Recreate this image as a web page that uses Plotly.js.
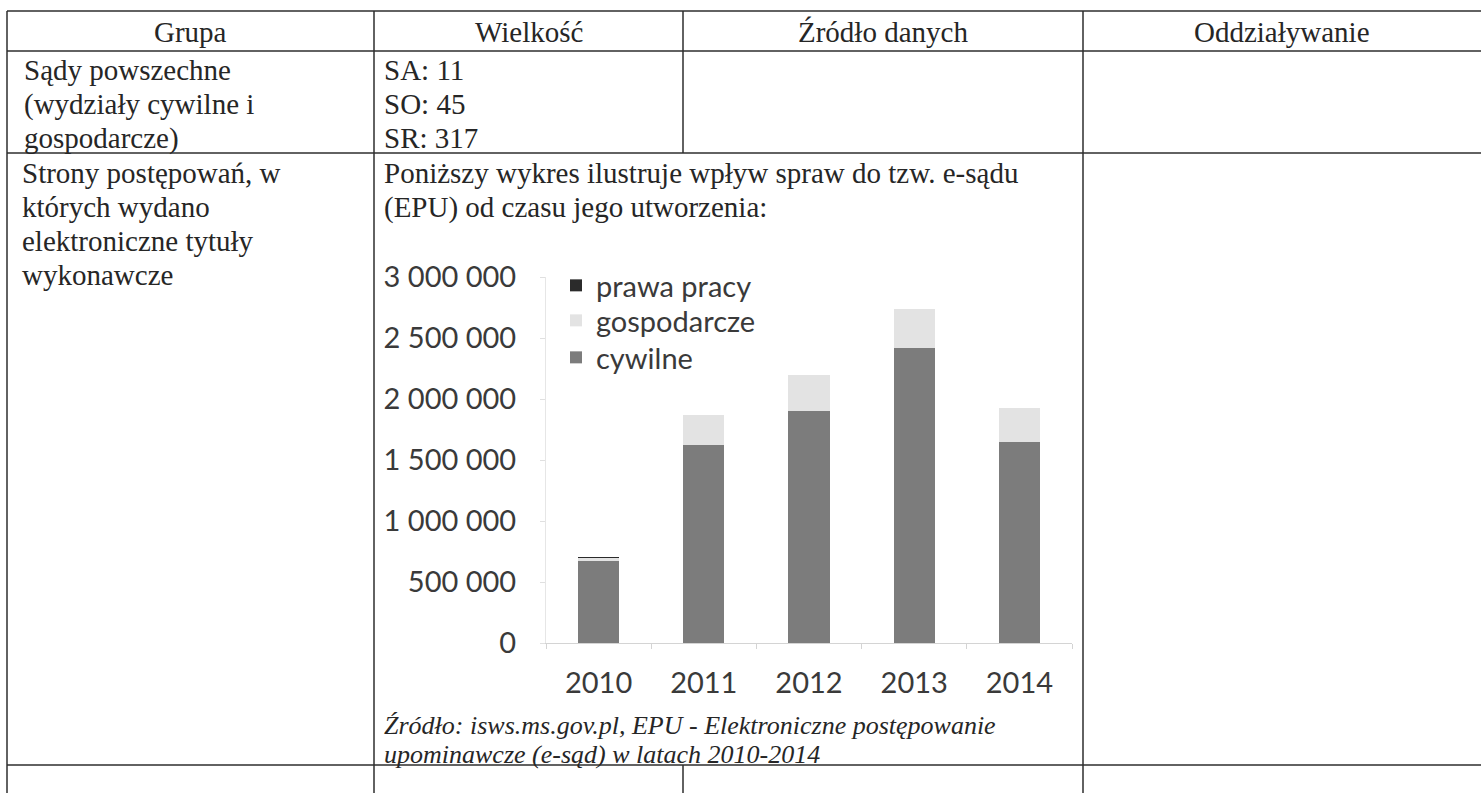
<!DOCTYPE html>
<html>
<head>
<meta charset="utf-8">
<script src="https://cdn.plot.ly/plotly-3.0.1.min.js"></script>
<style>
html,body{margin:0;padding:0;background:#fff;}
#chart{width:1481px;height:793px;}
</style>
</head>
<body>
<div id="chart"></div>
<script>
// ---- data ----
const years = ['2010', '2011', '2012', '2013', '2014'];
const cywilne = [672000, 1623000, 1900000, 2418000, 1648000];
const gospodarcze = [28000, 244000, 295000, 318000, 276000];
const prawaPracy = [1500, 2500, 3000, 3500, 2500];
const seriesNames = ['cywilne', 'gospodarcze', 'prawa pracy'];
const yTicks = [0, 500000, 1000000, 1500000, 2000000, 2500000, 3000000];

const headers = ['Grupa', 'Wielkość', 'Źródło danych', 'Oddziaływanie'];
const row1Col1 = ['Sądy powszechne', '(wydziały cywilne i', 'gospodarcze)'];
const row1Col2 = ['SA: 11', 'SO: 45', 'SR: 317'];
const row2Col1 = ['Strony postępowań, w', 'których wydano', 'elektroniczne tytuły', 'wykonawcze'];
const row2Intro = ['Poniższy wykres ilustruje wpływ spraw do tzw. e-sądu', '(EPU) od czasu jego utworzenia:'];
const sourceLines = ['Źródło: isws.ms.gov.pl, EPU - Elektroniczne postępowanie', 'upominawcze (e-sąd) w latach 2010-2014'];

// ---- layout helpers ----
const W = 1481, H = 793;
const px = x => x / W;
const py = y => 1 - y / H;

const colX = [7, 374, 683, 1083, 1481];
const rowY = [11, 51, 153, 765];
const lineH = 34;
const lineColor = '#2e2e2e';
const textColor = '#262626';
const serif = 'Liberation Serif, Times New Roman, serif';
const chartFont = 'Lato, Calibri, sans-serif';
const chartText = '#3a3a3a';

const shapes = [];
function hline(y, x0, x1) {
  shapes.push({type: 'line', xref: 'paper', yref: 'paper', x0: px(x0), x1: px(x1), y0: py(y), y1: py(y),
    line: {color: lineColor, width: 1.5}});
}
function vline(x, y0, y1) {
  shapes.push({type: 'line', xref: 'paper', yref: 'paper', x0: px(x), x1: px(x), y0: py(y0), y1: py(y1),
    line: {color: lineColor, width: 1.5}});
}
rowY.forEach(y => hline(y, colX[0], W));
vline(colX[0], rowY[0], H);
vline(colX[1], rowY[0], H);
vline(colX[2], rowY[0], rowY[2]);
vline(colX[2], rowY[3], H);
vline(colX[3], rowY[0], H);

const annotations = [];
function txt(t, x, y, opts) {
  annotations.push(Object.assign({
    text: t, xref: 'paper', yref: 'paper', x: px(x), y: py(y),
    xanchor: 'left', yanchor: 'middle', showarrow: false,
    font: {family: serif, size: 29, color: textColor}
  }, opts || {}));
}
headers.forEach((h, i) => txt(h, (colX[i] + colX[i + 1]) / 2, 32, {xanchor: 'center'}));
row1Col1.forEach((t, i) => txt(t, 22, 70 + i * lineH));
row1Col2.forEach((t, i) => txt(t, 382, 70 + i * lineH));
row2Col1.forEach((t, i) => txt(t, 20, 173 + i * lineH));
row2Intro.forEach((t, i) => txt(t, 382, 173 + i * lineH));
sourceLines.forEach((t, i) => txt(t, 382, 725 + i * 29, {font: {family: serif, size: 26, color: textColor, style: 'italic'}}));

// ---- chart ----
const zeroY = 643, topY = 277;
const plotL = 546, plotR = 1072;
const legendTops = [332, 295, 260];   // cywilne, gospodarcze, prawa pracy
const legendIds = ['legend', 'legend2', 'legend3'];
const colors = ['#7c7c7c', '#e3e3e3', '#2b2b2b'];
const values = [cywilne, gospodarcze, prawaPracy];

const traces = values.map((v, i) => ({
  name: seriesNames[i], x: years, y: v, type: 'bar',
  marker: {color: colors[i]}, legend: legendIds[i]
}));

function legendAt(top) {
  return {
    x: px(556), y: py(top), xanchor: 'left', yanchor: 'top',
    font: {family: chartFont, size: 29, color: chartText},
    bgcolor: 'rgba(0,0,0,0)', itemwidth: 30
  };
}

const layout = {
  width: W, height: H,
  margin: {l: 0, r: 0, t: 0, b: 0},
  paper_bgcolor: '#ffffff', plot_bgcolor: '#ffffff',
  separators: ', ',
  barmode: 'stack',
  bargap: 0.61,
  showlegend: true,
  legend: legendAt(legendTops[0]),
  legend2: legendAt(legendTops[1]),
  legend3: legendAt(legendTops[2]),
  xaxis: {
    domain: [px(plotL), px(plotR)],
    type: 'category',
    showline: true, linecolor: '#d4d4d4', linewidth: 1,
    ticks: 'outside', tickson: 'boundaries', ticklen: 5, tickcolor: '#d4d4d4',
    tickfont: {family: chartFont, size: 29, color: chartText},
    ticklabelstandoff: 14,
    showgrid: false, zeroline: false, fixedrange: true
  },
  yaxis: {
    domain: [py(zeroY), py(topY)],
    range: [0, 3000000],
    tickvals: yTicks,
    tickformat: ',d',
    showline: true, linecolor: '#e6e6e6', linewidth: 1,
    ticks: 'outside', ticklen: 5, tickcolor: '#e0e0e0',
    tickfont: {family: chartFont, size: 29, color: chartText},
    ticklabelstandoff: 18,
    showgrid: false, zeroline: false, fixedrange: true
  },
  shapes: shapes,
  annotations: annotations
};

Plotly.newPlot('chart', traces, layout, {displayModeBar: false, staticPlot: true});
</script>
</body>
</html>
